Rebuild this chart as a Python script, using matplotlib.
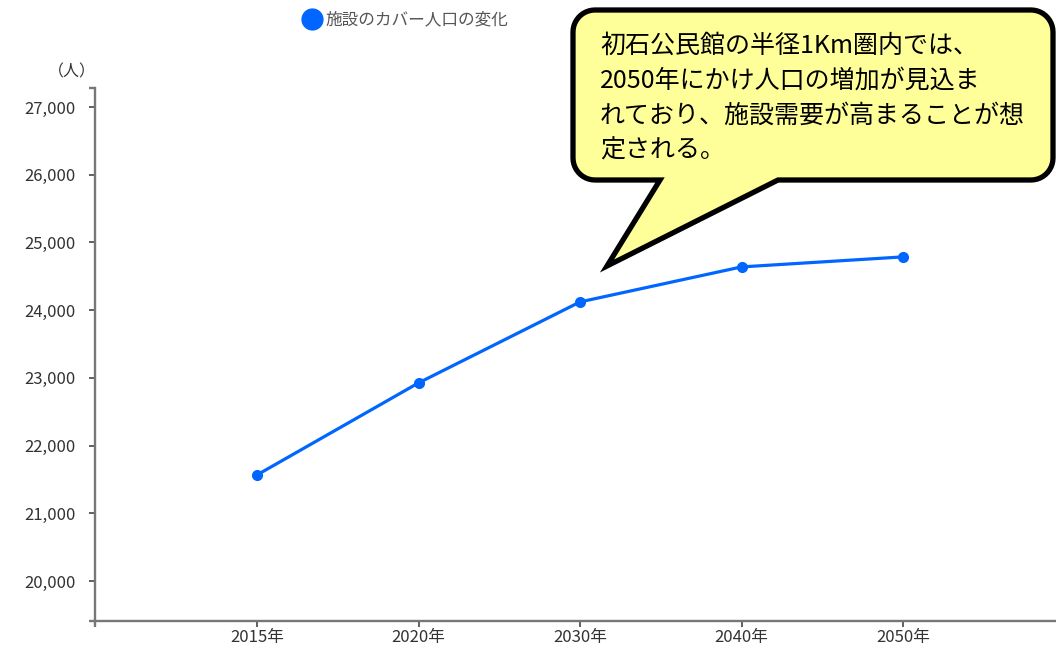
"""Covered population line chart with a speech-bubble callout."""

import matplotlib

matplotlib.use("Agg")

import matplotlib.pyplot as plt
import numpy as np
from matplotlib.lines import Line2D
from matplotlib.patches import PathPatch
from matplotlib.path import Path
from matplotlib.ticker import FuncFormatter
from matplotlib.transforms import Affine2D

plt.rcParams["font.family"] = ["Noto Sans CJK JP", "DejaVu Sans"]

# data
years = ["2015年", "2020年", "2030年", "2040年", "2050年"]
population = [21566, 22925, 24121, 24638, 24786]
series_name = "施設のカバー人口の変化"
y_ticks = [20000, 21000, 22000, 23000, 24000, 25000, 26000, 27000]
unit_label = "（人）"
callout_lines = [
    "初石公民館の半径1Km圏内では、",
    "2050年にかけ人口の増加が見込ま",
    "れており、施設需要が高まることが想",
    "定される。",
]

W, H = 1056, 650
BLUE = "#0066FF"
AXIS = "#777777"
TEXT = "#333333"

fig = plt.figure(figsize=(W / 100, H / 100), dpi=100)
# pixel coords (origin top-left) -> figure
px = Affine2D().scale(1 / W, -1 / H).translate(0, 1) + fig.transFigure

ax = fig.add_axes([95 / W, (H - 621) / H, 1 - 95 / W, (621 - 88) / H])

x = np.arange(len(years))
ax.plot(x, population, color=BLUE, lw=2.3, marker="o", ms=7, label=series_name,
        clip_on=False, zorder=3)

ylo, yhi = 19409, 27280
xlo, xhi = -1.003, 4.947
ax.set_xlim(xlo, xhi)
ax.set_ylim(ylo, yhi)

ax.set_xticks(x)
ax.set_xticklabels(years)
ax.set_yticks(y_ticks)
ax.yaxis.set_major_formatter(FuncFormatter(lambda v, _: f"{int(v):,}"))
ax.set_xticks([xlo], minor=True)
ax.set_yticks([ylo, yhi], minor=True)

for side in ("top", "right"):
    ax.spines[side].set_visible(False)
for side in ("left", "bottom"):
    ax.spines[side].set_color(AXIS)
    ax.spines[side].set_linewidth(1.7)

ax.tick_params(axis="y", which="both", length=4, width=1.2, color="#444444",
               labelsize=12, labelcolor=TEXT, pad=10)
ax.tick_params(axis="x", which="both", length=4.5, width=1.2, color="#444444",
               labelsize=12, labelcolor=TEXT, pad=1.5)
ax.tick_params(which="minor", color=AXIS, width=1.7)

fig.text(72, 72, unit_label, transform=px, ha="center", va="center",
         fontsize=11.5, color=TEXT)

handle = Line2D([], [], marker="o", ls="", color=BLUE, ms=15)
fig.legend(handles=[handle], labels=[series_name], loc="center left",
           bbox_to_anchor=(305 / W, 1 - 20 / H), frameon=False,
           handlelength=0.8, handletextpad=0.45, borderpad=0, borderaxespad=0,
           fontsize=12, labelcolor="#555555")

# speech bubble
left, right, top, bottom, r = 573, 1053, 10, 180, 22
tail_l, tail_r, tip = 660, 778, (607, 266)


def arc(cx, cy, a0, a1):
    t = np.radians(np.linspace(a0, a1, 12))
    return list(zip(cx + r * np.cos(t), cy - r * np.sin(t)))


verts = [(left + r, top), (right - r, top)]
verts += arc(right - r, top + r, 90, 0)
verts += [(right, bottom - r)]
verts += arc(right - r, bottom - r, 0, -90)
verts += [(tail_r, bottom), tip, (tail_l, bottom), (left + r, bottom)]
verts += arc(left + r, bottom - r, -90, -180)
verts += [(left, top + r)]
verts += arc(left + r, top + r, 180, 90)
verts.append(verts[0])
codes = [Path.MOVETO] + [Path.LINETO] * (len(verts) - 2) + [Path.CLOSEPOLY]
bubble = PathPatch(Path(verts, codes), transform=px, facecolor="#FFFF99",
                   edgecolor="black", lw=3.8, joinstyle="miter", zorder=5)
fig.add_artist(bubble)

for i, line in enumerate(callout_lines):
    fig.text(600, 53 + 35 * i, line, transform=px, ha="left", va="baseline",
             fontsize=18, color="black", zorder=6)

fig.savefig("out.png", dpi=100)
plt.close(fig)
